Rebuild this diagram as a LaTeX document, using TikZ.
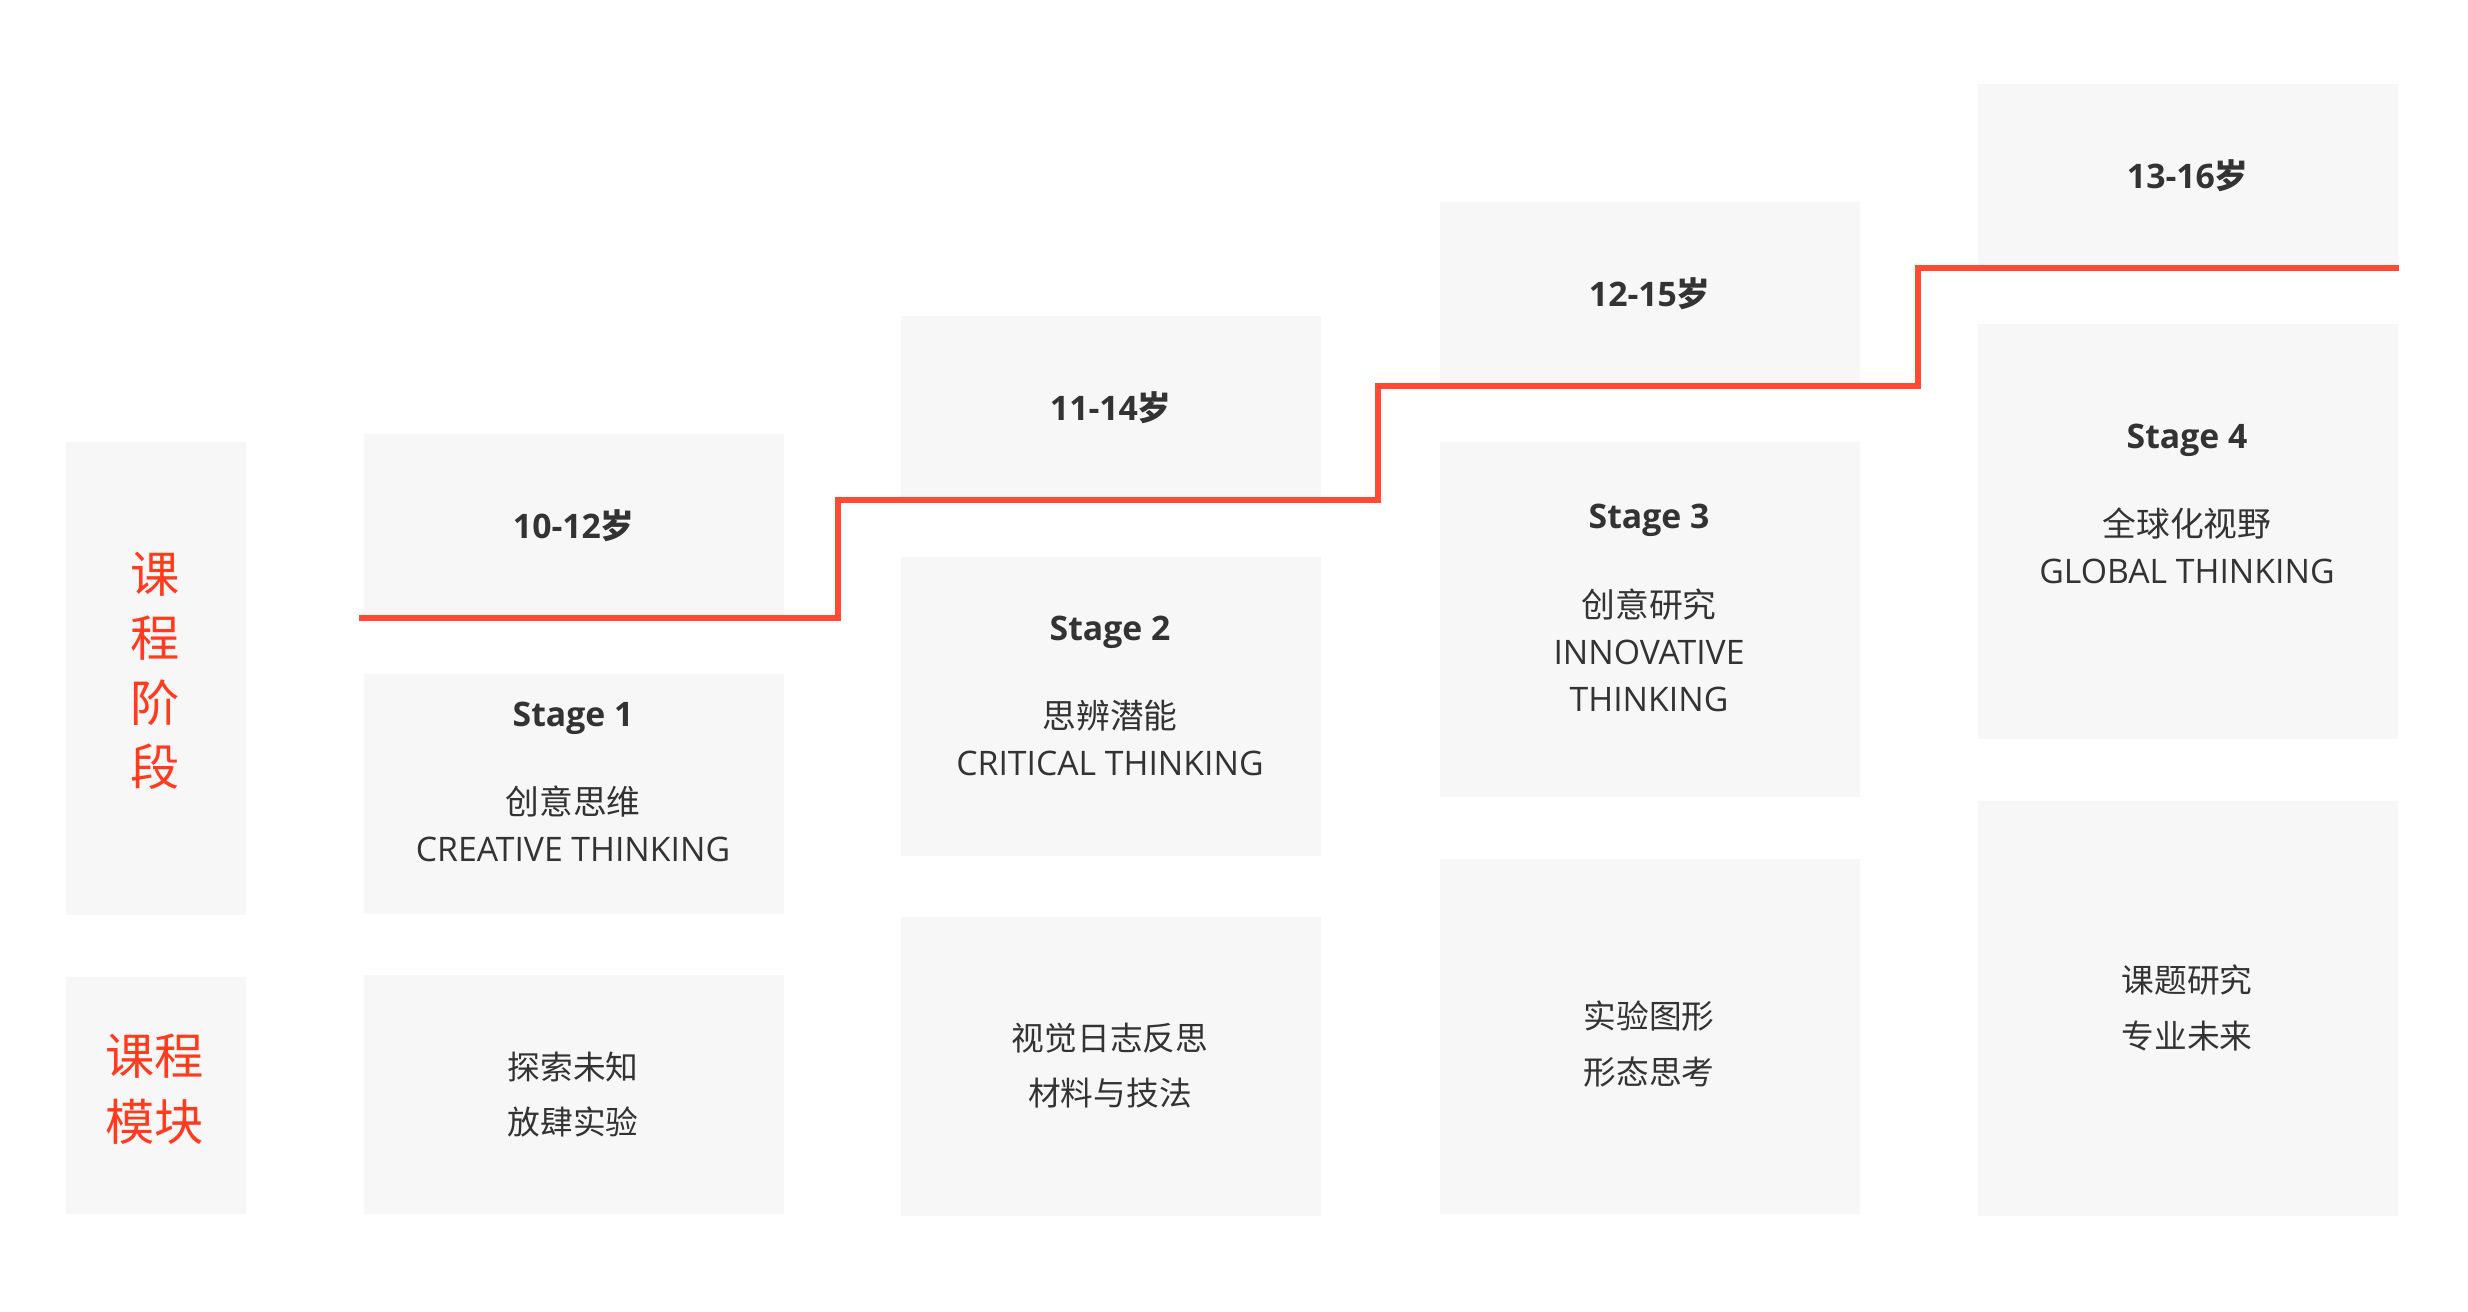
\documentclass[tikz,border=0pt]{standalone}
\usepackage{fontspec}
\setmainfont{Open Sans}
\newfontfamily\cjk{Noto Sans CJK SC}
\usetikzlibrary{positioning}

\definecolor{boxgray}{HTML}{F7F7F7}
\definecolor{linered}{HTML}{FF4A33}
\definecolor{labelred}{HTML}{FF3B1F}
\definecolor{txtgray}{HTML}{333333}

\begin{document}
\begin{tikzpicture}[x=0.01cm, y=-0.01cm,
  box/.style={fill=boxgray, anchor=north west, inner sep=0pt, minimum width=4.2cm, text=txtgray},
  sidebox/.style={box, minimum width=1.8cm},
  sidetext/.style={align=center, text=labelred, inner sep=0pt, font=\cjk\fontsize{14}{18.3}\selectfont},
  agebox/.style={box, minimum height=1.83cm, font=\bfseries\fontsize{9.6}{13.4}\selectfont},
  modtext/.style={align=center, text=txtgray, inner sep=0pt, font=\cjk\fontsize{9.3}{13.4}\selectfont},
  stagetext/.style={align=center, text=txtgray, inner sep=0pt, font=\fontsize{9.6}{13.4}\selectfont},
  stepline/.style={draw=linered, line width=0.06cm}]
  \useasboundingbox (0,0) rectangle (2468,1312);

  % Coluna lateral
  \node[sidebox, minimum height=4.73cm] (phase) at (65,441) {};
  \node[sidebox, minimum height=2.37cm] (module) at (65,976) {};
  \node[sidetext] (phasetxt) at (155,671) {课\\程\\阶\\段};
  \node[sidetext, font=\cjk\fontsize{14}{18.8}\selectfont] (moduletxt) at (155,1089) {课程\\模块};

  % Idades
  \node[agebox] (age1) at (363,433) {10-12{\cjk 岁}};
  \node[agebox] (age2) at (900,315) {11-14{\cjk 岁}};
  \node[agebox] (age3) at (1439,201) {12-15{\cjk 岁}};
  \node[agebox] (age4) at (1977,83) {13-16{\cjk 岁}};

  % Stages
  \node[box, minimum height=2.40cm] (stage1) at (363,673) {};
  \node[box, minimum height=2.99cm] (stage2) at (900,556) {};
  \node[box, minimum height=3.55cm] (stage3) at (1439,441) {};
  \node[box, minimum height=4.15cm] (stage4) at (1977,323) {};

  \node[stagetext] (stage1txt) at (573,782) {\textbf{Stage 1}\\[0.41cm]{\cjk 创意思维}\\CREATIVE THINKING};
  \node[stagetext] (stage2txt) at (1110,696) {\textbf{Stage 2}\\[0.41cm]{\cjk 思辨潜能}\\CRITICAL THINKING};
  \node[stagetext] (stage3txt) at (1649,608) {\textbf{Stage 3}\\[0.41cm]{\cjk 创意研究}\\INNOVATIVE\\THINKING};
  \node[stagetext] (stage4txt) at (2187,504) {\textbf{Stage 4}\\[0.41cm]{\cjk 全球化视野}\\GLOBAL THINKING};

  % Módulos
  \node[box, minimum height=2.39cm] (mod1) at (363,974) {};
  \node[box, minimum height=2.99cm] (mod2) at (900,916) {};
  \node[box, minimum height=3.55cm] (mod3) at (1439,858) {};
  \node[box, minimum height=4.15cm] (mod4) at (1977,800) {};

  \node[modtext] (mod1txt) at (573,1095) {探索未知\\[0.08cm]放肆实验};
  \node[modtext] (mod2txt) at (1110,1066) {视觉日志反思\\[0.08cm]材料与技法};
  \node[modtext] (mod3txt) at (1649,1044) {实验图形\\[0.08cm]形态思考};
  \node[modtext] (mod4txt) at (2187,1008) {课题研究\\[0.08cm]专业未来};

  % Linha de progressão
  \draw[stepline] ([xshift=-0.04cm]age1.south west) -- (age1.south east) -- ++(53,0)
    |- (age2.south east) -- ++(56,0)
    |- (age3.south east) -- ++(57,0)
    |- (age4.south east);
\end{tikzpicture}
\end{document}
